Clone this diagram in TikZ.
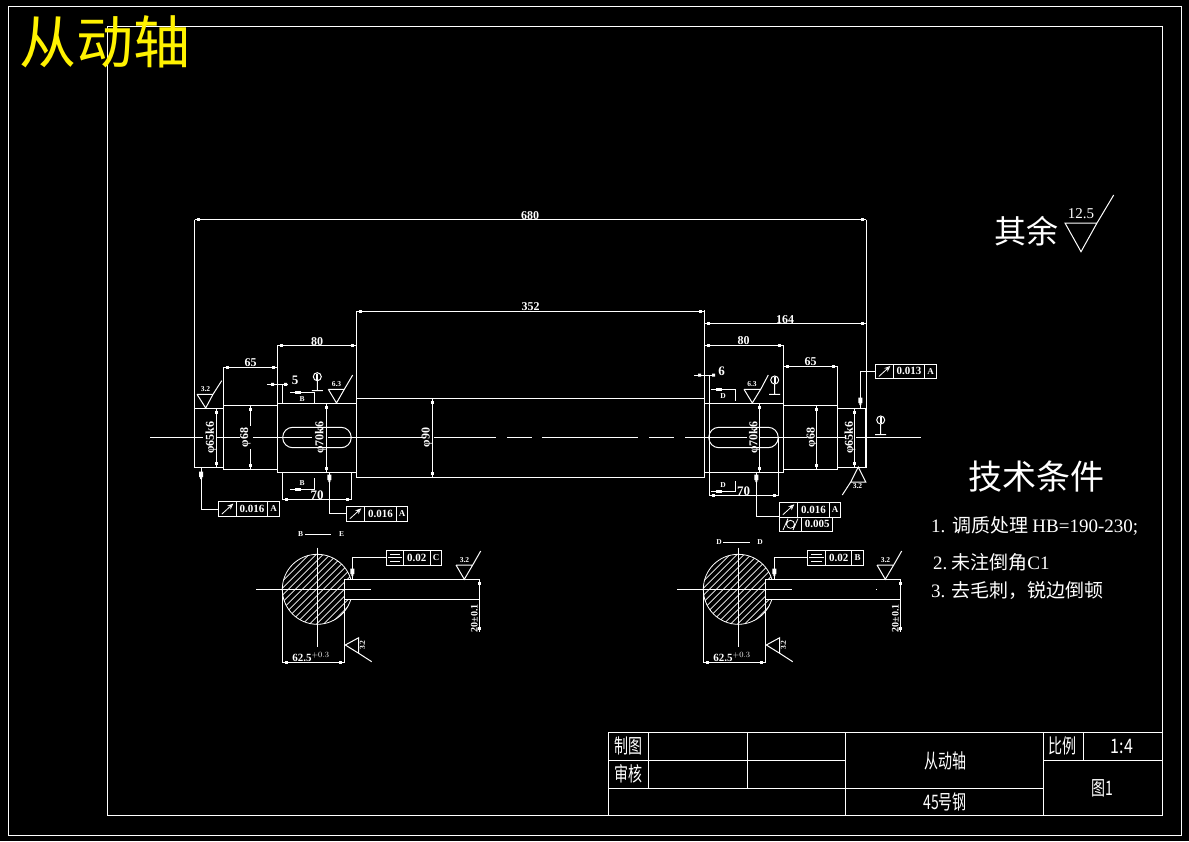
\documentclass[tikz,border=0pt]{standalone}
\usepackage{fontspec}
\setmainfont{Liberation Serif}
\newfontfamily\cjk{Noto Sans CJK SC}
\usetikzlibrary{arrows.meta}
\tikzset{
  ln/.style={draw=white,line width=1pt},
  thin ln/.style={draw=white,line width=.8pt},
  hatch/.style={draw=white,line width=.55pt},
  lbl/.style={text=white,inner sep=0pt,font=\fontsize{12}{12}\selectfont\bfseries},
  tiny lbl/.style={text=white,inner sep=0pt,font=\fontsize{7.5}{8}\selectfont\bfseries},
  fcf lbl/.style={text=white,inner sep=0pt,font=\fontsize{11}{11}\selectfont\bfseries},
  big lbl/.style={text=white,inner sep=0pt},
  tb lbl/.style={text=white,inner sep=0pt,font=\fontsize{20}{20}\selectfont\cjk},
}
\newcommand\hdim[3]{%
  \draw[ln] (#1,#3)--(#2,#3);
  \fill[white] (#1+2.5,#3-1.5) rectangle (#1+5.5,#3+1.5);
  \fill[white] (#2-5.5,#3-1.5) rectangle (#2-2.5,#3+1.5);}
\newcommand\vdim[3]{%
  \draw[ln] (#1,#2)--(#1,#3);
  \fill[white] (#1-1.5,#2+2.5) rectangle (#1+1.5,#2+5.5);
  \fill[white] (#1-1.5,#3-5.5) rectangle (#1+1.5,#3-2.5);}
% roughness symbol: base left, base right, apex, tail
\newcommand\rough[8]{\draw[ln] (#1,#2)--(#3,#2)--(#4,#5)--(#1,#2) (#3,#2)--(#6,#7);}
\newcommand\datum[3]{\draw[ln] (#1,#2) circle (4) (#1,#2+4)--(#1,#3) (#1-5.5,#3)--(#1+5.5,#3);
  \fill[white] (#1-1,#2-3) rectangle (#1+1,#2+3);}
\newcommand\symrun[3]{% runout symbol
  \draw[thin ln,-{Stealth[length=6pt,width=5pt,open]}] (#1+3.5,#3+12.5)--(#1+15,#3+2);}
\newcommand\symsym[3]{% symmetry
  \draw[thin ln] (#1+4,#3+4)--(#2-3.5,#3+4) (#1+2,#3+7.4)--(#2-1.5,#3+7.4) (#1+4,#3+10.8)--(#2-3.5,#3+10.8);}
\newcommand\fcf[9]{%
  \draw[ln] (#2,#6) rectangle (#5,#6+14.7) (#3,#6)--(#3,#6+14.7) (#4,#6)--(#4,#6+14.7);
  #7{#2}{#3}{#6}
  \node[fcf lbl] (#1v) at ({(#3+#4)/2},#6+7.4) {#8};
  \node[fcf lbl,font=\fontsize{9}{9}\selectfont\bfseries] (#1d) at ({(#4+#5)/2},#6+7.4) {#9};}
\newcommand\head[2]{\fill[white] (#1-2,#2-3.5) rectangle (#1+2,#2+2) (#1-1,#2+2) rectangle (#1+1,#2+4);}
\newcommand\secarrow[3]{\draw[ln] (#1,#3)--(#2,#3); \fill[white] (#1+5,#3-1.6) rectangle (#1+11,#3+1.6);}
\newcommand\sectionview[2]{%
  \begin{scope}
    \clip (317.3,589.3) circle (35);
    \foreach \k in {-50,-43,...,50} \draw[hatch] (317.3+\k-40,589.3+40)--(317.3+\k+40,589.3-40);
  \end{scope}
  \draw[thin ln] (317.3,589.3) circle (35);
  \fill[black] (345,579.8) rectangle (358,598.8);
  \draw[ln] (256,589.3)--(371,589.3) (317.3,547.7)--(317.3,646.7);
  \draw[ln] (344.7,579.3)--(479.8,579.3) (344.7,599.3)--(479.8,599.3);
  \draw[ln] (344.7,579.3)--(344.7,662.3) (282.3,589.3)--(282.3,662.3);
  \hdim{282.3}{344.7}{662.3}
  \vdim{479.3}{579.3}{632.3}
  \node[lbl,font=\fontsize{11}{11}\selectfont\bfseries] (#1w) at (311,657.3) {62.5$^{+0.3}$};
  \node[lbl,font=\fontsize{10}{10}\selectfont\bfseries,rotate=90] (#1h) at (474.3,618) {20±0.1};
  \rough{456}{565}{472.7}{464.3}{579.3}{480.7}{551}{}
  \node[tiny lbl] (#1r) at (464.5,560.5) {3.2};
  \draw[ln] (345.3,645)--(358.7,637.7)--(358.7,653.3)--cycle (358.7,653.3)--(371.7,661.7);
  \node[tiny lbl,rotate=90] (#1s) at (362.5,645) {3.2};
}
\begin{document}
\begin{tikzpicture}[x=1pt,y=-1pt]
\useasboundingbox (0,0) rectangle (1189,841);
\fill[black] (0,0) rectangle (1189,841);
% frames
\draw[ln] (8,6.5) rectangle (1181,835);
\draw[ln] (107.5,26.5) rectangle (1162,815);
% centre line
\draw[ln] (150,437.5)--(203,437.5) (217,437.5)--(240,437.5) (253,437.5)--(312,437.5)
 (328,437.5)--(422,437.5) (434,437.5)--(496,437.5) (507,437.5)--(532,437.5) (542,437.5)--(638,437.5)
 (649,437.5)--(674,437.5) (685,437.5)--(747,437.5) (760,437.5)--(806.7,437.5) (816.7,437.5)--(845,437.5)
 (856,437.5)--(921,437.5);
% shaft
\draw[ln] (194.5,408) rectangle (223.3,467);
\draw[ln,line width=1.6pt] (194.5,408)--(194.5,467);
\draw[ln] (223.3,405) rectangle (277.3,469);
\draw[ln] (277.3,403) rectangle (356.5,472.7);
\draw[ln] (356.5,398) rectangle (704.3,477);
\draw[ln] (704.3,403) rectangle (783,472.7);
\draw[ln] (783,405) rectangle (837.5,469);
\draw[ln] (837.5,408) rectangle (866,467);
\draw[ln,line width=1.6pt] (866,408)--(866,467);
% keyways
\draw[ln,rounded corners=10pt] (282.7,427.3) rectangle (351.2,447.7);
\draw[ln,rounded corners=10pt] (708.8,427.3) rectangle (778.2,447.7);
% extension lines
\draw[ln] (194.5,219.5)--(194.5,408) (866,219.5)--(866,408)
 (356.5,311)--(356.5,398) (704.5,310)--(704.5,403)
 (277.3,346)--(277.3,403) (356.5,346)--(356.5,398)
 (223.3,367)--(223.3,405) (837.5,366)--(837.5,405) (783,345)--(783,403)
 (282.7,384.3)--(282.7,403) (282.7,472.7)--(282.7,500) (351.2,472.7)--(351.2,500)
 (709.3,375)--(709.3,496) (778.3,437.5)--(778.3,496);
% dimensions
\hdim{194.5}{866}{219.8}
\node[lbl] (d680) at (530,215.5) {680};
\hdim{356.5}{704.5}{311.5}
\node[lbl] (d352) at (530.5,307) {352};
\hdim{704.5}{866}{323.5}
\node[lbl] (d164) at (785,319.2) {164};
\hdim{277.3}{356.5}{345.8}
\node[lbl] (d80a) at (317,341.5) {80};
\hdim{704.5}{783}{345.3}
\node[lbl] (d80b) at (743.5,341) {80};
\hdim{223.3}{277.3}{367.3}
\node[lbl] (d65a) at (250.5,363) {65};
\hdim{783}{837.5}{366.3}
\node[lbl] (d65b) at (810.5,362) {65};
\hdim{282.7}{351.2}{499.5}
\node[lbl,font=\fontsize{13}{13}\selectfont\bfseries] (d70a) at (317,495) {70};
\hdim{709.3}{778.3}{495.5}
\node[lbl,font=\fontsize{13}{13}\selectfont\bfseries] (d70b) at (743.5,491) {70};
\draw[ln] (267,384.3)--(288,384.3);
\fill[white] (271,382.8) rectangle (274,385.8) (284,382.8) rectangle (287,385.8);
\node[lbl,font=\fontsize{13}{13}\selectfont\bfseries] (d5) at (295,380) {5};
\draw[ln] (694,375)--(715,375);
\fill[white] (698,373.5) rectangle (701,376.5) (712,373.5) rectangle (715,376.5);
\node[lbl,font=\fontsize{13}{13}\selectfont\bfseries] (d6) at (721.5,371.5) {6};
% diameters
\vdim{216.3}{408}{467}
\node[lbl,rotate=90] (dia1) at (211,437.5) {φ65k6};
\vdim{250.3}{405}{469}
\node[lbl,rotate=90,fill=black,inner xsep=2pt] (dia2) at (245.5,437.5) {φ68};
\vdim{326.3}{403}{472.7}
\node[lbl,rotate=90] (dia3) at (320.5,437.5) {φ70k6};
\vdim{432.5}{398}{477}
\node[lbl,rotate=90] (dia4) at (427,437.5) {φ90};
\vdim{759.3}{403}{472.7}
\node[lbl,rotate=90] (dia5) at (754.5,437.5) {φ70k6};
\vdim{816.3}{405}{469}
\node[lbl,rotate=90] (dia6) at (812,437.5) {φ68};
\vdim{854.7}{408}{467}
\node[lbl,rotate=90] (dia7) at (850,437.5) {φ65k6};
% section marks
\secarrow{290}{314.3}{392.3}
\draw[ln] (314.3,392.3)--(314.3,403);
\node[tiny lbl] (sb1) at (302,399) {B};
\secarrow{290}{314.5}{489.3}
\draw[ln] (314.5,489.3)--(314.5,478);
\node[tiny lbl] (sb2) at (302,483) {B};
\secarrow{711}{735.7}{389.3}
\draw[ln] (735.7,389.3)--(735.7,401);
\node[tiny lbl] (sd1) at (723,396.5) {D};
\secarrow{711}{735.7}{491.7}
\draw[ln] (735.7,491.7)--(735.7,481);
\node[tiny lbl] (sd2) at (723,485) {D};
% roughness on shaft
\rough{197}{394.3}{213}{205.7}{408}{221.7}{380.7}{}
\node[tiny lbl] (r1) at (205.5,389) {3.2};
\rough{328.3}{389.3}{344.3}{336.5}{403}{352.7}{375}{}
\node[tiny lbl] (r2) at (336.5,384) {6.3};
\rough{744}{389.3}{760.7}{752.3}{403}{768.3}{375}{}
\node[tiny lbl] (r3) at (752,384) {6.3};
\draw[ln] (850.7,482)--(865.7,482)--(858.3,467)--cycle (850.7,482)--(842.3,495);
\node[tiny lbl] (r4) at (857.5,486.5) {3.2};
% datums
\datum{317.3}{376.7}{390.7}
\datum{774.7}{380}{394.3}
\datum{880.7}{420}{434.7}
% feature control frames
\draw[ln] (201,467)--(201,509.3)--(218.3,509.3);
\head{201}{475}
\fcf{fa}{218.3}{236.3}{267.7}{279.7}{501.6}{\symrun}{0.016}{A}
\draw[ln] (329.3,472.7)--(329.3,513.3)--(346.3,513.3);
\head{329.3}{478}
\fcf{fb}{346.3}{364.3}{396.7}{407.7}{506.3}{\symrun}{0.016}{A}
\draw[ln] (875.3,371.7)--(860.3,371.7)--(860.3,408);
\head{860.3}{401}
\fcf{fc}{875.3}{893.3}{924.7}{936.7}{364}{\symrun}{0.013}{A}
\draw[ln] (756.3,472.7)--(756.3,516)--(779.3,516);
\head{756.3}{478}
\fcf{fd}{779.3}{797.3}{829.7}{840.7}{502.3}{\symrun}{0.016}{A}
\draw[ln] (779.3,517) rectangle (832.7,531.7) (801.7,517)--(801.7,531.7);
\draw[thin ln] (790.5,524.3) circle (4) (783,530)--(788,518.5) (793,530)--(798,518.5);
\node[fcf lbl] (fdw) at (817.2,524.3) {0.005};
% section views
\sectionview{sl}{}
\begin{scope}[xshift=421pt]
\sectionview{sr}{}
\end{scope}
\draw[ln] (305,534)--(331,534);
\node[tiny lbl] (tl1) at (300.7,534) {B};
\node[tiny lbl] (tl2) at (341.7,534) {E};
\draw[ln] (723,542)--(750,542);
\node[tiny lbl] (tr1) at (719,542.5) {D};
\node[tiny lbl] (tr2) at (760,542.5) {D};
\draw[ln] (386,557.3)--(352.3,557.3)--(352.3,579.3);
\head{352.3}{572}
\fcf{fe}{386}{403.3}{430.3}{441.7}{550.3}{\symsym}{0.02}{C}
\draw[ln] (807.3,557.3)--(774.3,557.3)--(774.3,579.3);
\head{774.3}{572}
\fcf{ff}{807.3}{825.7}{851.7}{863.7}{550.3}{\symsym}{0.02}{B}
\fill[white] (876,589) rectangle (877,590);
% title block
\draw[ln] (608,732) rectangle (1162,815);
\draw[ln] (608,760.5)--(845.8,760.5) (1043.6,760.5)--(1162,760.5) (608,788.5)--(1043.6,788.5)
 (648,732)--(648,788.5) (747.6,732)--(747.6,788.5) (845.8,732)--(845.8,815)
 (1043.6,732)--(1043.6,815) (1083,732)--(1083,760.5);
\node[tb lbl] (t1) at (628,746) {\scalebox{.7}[1]{制图}};
\node[tb lbl] (t2) at (628,774) {\scalebox{.7}[1]{审核}};
\node[tb lbl] (t3) at (945,761) {\scalebox{.7}[1]{从动轴}};
\node[tb lbl] (t4) at (945,802) {\scalebox{.7}[1]{45号钢}};
\node[tb lbl] (t5) at (1062,746) {\scalebox{.7}[1]{比例}};
\node[tb lbl] (t6) at (1122,746) {\scalebox{.8}[1]{1:4}};
\node[tb lbl] (t7) at (1102,788) {\scalebox{.7}[1]{图1}};
% texts
\node[text=yellow,inner sep=0pt,font=\fontsize{57}{57}\selectfont\cjk] (title) at (105,42) {从动轴};
\node[big lbl,font=\fontsize{32}{32}\selectfont\cjk] (qy) at (1026,231) {其余};
\node[big lbl,font=\fontsize{15}{15}\selectfont] (r125) at (1081,214) {12.5};
\draw[ln] (1065,223)--(1097,223)--(1081,251.7)--cycle (1097,223)--(1113.7,195);
\node[big lbl,font=\fontsize{34}{34}\selectfont\cjk] (jstj) at (1036,477) {技术条件};
\node[big lbl,anchor=west,font=\fontsize{19}{19}\selectfont] (n1) at (931,526) {1.\kern7pt{\cjk 调质处理}\kern4pt HB=190-230;};
\node[big lbl,anchor=west,font=\fontsize{19}{19}\selectfont] (n2) at (933,562) {2.\kern4pt{\cjk 未注倒角}C1};
\node[big lbl,anchor=west,font=\fontsize{19}{19}\selectfont] (n3) at (931,591) {3.\kern6pt{\cjk 去毛刺，锐边倒顿}};
\end{tikzpicture}
\end{document}
